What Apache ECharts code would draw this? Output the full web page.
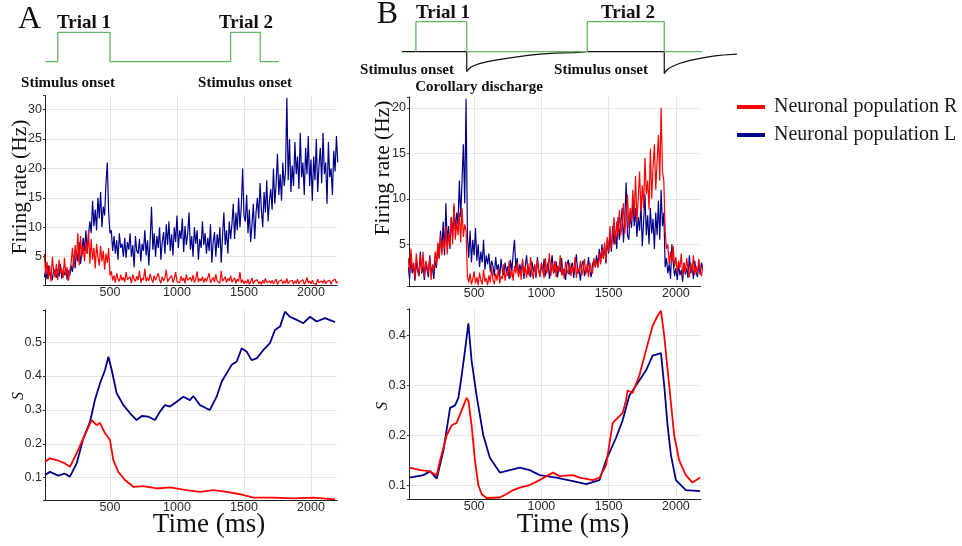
<!DOCTYPE html>
<html>
<head>
<meta charset="utf-8">
<script src="https://cdn.jsdelivr.net/npm/echarts@6/dist/echarts.min.js"></script>
<style>html,body{margin:0;padding:0;background:#fff}#c{width:962px;height:546px}</style>
</head>
<body>
<div id="c"></div>
<script>
// ---------- DATA ----------
const RATE_STEP = 10; // firing-rate samples every 10 ms starting at 10 ms
const rateA_L = [
1.5,2.8,1.2,3.5,1.8,2.4,1.0,3.0,2.2,1.4,
2.9,1.6,3.8,1.3,2.5,1.9,3.2,1.1,2.7,1.8,
3.5,2.4,5.2,3.0,6.1,4.2,7.5,3.8,5.6,8.2,
6.0,9.5,5.5,8.8,11.0,9.0,14.5,10.2,13.0,9.5,
15.0,11.5,16.0,10.0,13.5,12.0,17.5,21.0,12.5,9.0,
9.5,6.0,8.5,5.5,7.8,4.5,9.0,6.5,7.2,5.0,
8.2,4.8,7.5,6.2,9.0,5.0,7.0,3.2,8.5,6.0,
5.5,8.0,4.2,7.2,6.0,9.5,5.2,7.8,3.5,8.0,
13.5,6.2,9.0,5.0,8.5,6.5,10.0,4.5,7.5,9.2,
5.5,10.5,7.0,11.0,6.0,8.8,5.2,10.0,7.5,12.0,
6.5,9.5,8.0,11.5,5.8,10.2,7.0,9.0,12.5,6.2,
8.5,5.0,10.0,7.2,9.5,4.5,8.0,6.5,11.0,7.0,
9.0,5.5,8.2,6.0,10.5,4.0,7.5,9.2,5.0,8.8,
6.5,10.0,4.0,8.5,12.5,7.0,9.5,5.5,11.0,8.0,
10.5,14.0,8.0,12.5,9.5,15.0,10.0,13.5,20.0,12.0,
11.0,15.5,9.0,13.0,7.5,10.5,14.0,8.0,12.5,15.0,
11.5,17.5,13.0,10.0,16.0,12.5,18.0,11.0,14.5,16.5,
13.0,20.0,14.0,17.5,22.5,15.5,19.0,14.5,21.0,17.0,
19.5,32.0,18.0,25.0,16.0,20.5,17.0,24.5,19.0,22.0,
16.5,26.0,18.5,21.0,15.5,23.5,19.0,25.5,17.0,21.5,
14.5,22.0,18.0,25.0,16.0,20.5,23.5,17.5,26.0,19.0,
21.0,14.0,24.5,18.5,20.0,15.5,23.0,19.5,25.5,21.0];
const rateA_R = [
5.5,2.0,4.2,1.2,3.5,0.8,5.0,2.5,1.5,3.8,
1.0,4.5,2.2,3.0,1.4,4.8,1.8,3.2,0.9,2.6,
4.0,6.5,3.2,7.0,4.5,9.0,3.5,8.5,5.0,6.8,
4.2,7.5,5.5,9.5,3.8,8.0,4.5,6.5,3.0,7.2,
5.0,3.5,6.8,4.2,6.0,2.8,5.5,4.0,6.5,1.8,
2.5,1.0,1.8,0.6,2.2,1.2,0.8,1.9,1.0,1.5,
0.7,2.4,1.1,0.9,1.6,0.5,2.0,1.2,0.8,1.7,
1.0,2.6,0.6,1.4,1.0,3.0,0.8,1.5,0.9,2.1,
1.2,0.6,1.8,1.0,0.7,2.2,1.1,0.5,1.6,0.9,
1.4,2.8,0.7,1.2,0.9,1.8,0.6,1.3,2.4,0.8,
1.1,0.6,1.7,0.9,1.4,0.5,2.0,1.0,0.7,1.5,
0.8,1.9,0.6,1.2,2.5,0.7,1.3,0.9,1.6,0.6,
1.4,0.8,1.1,2.2,0.6,1.0,1.5,0.7,2.0,0.9,
1.2,0.5,2.6,0.8,1.1,1.6,0.6,1.3,0.9,1.8,
0.7,1.0,1.4,0.5,1.2,0.8,2.4,0.6,1.1,0.4,
0.9,0.5,1.2,0.3,0.8,1.4,0.4,0.9,0.6,1.1,
0.4,0.8,0.3,1.0,0.5,1.3,0.6,0.3,0.9,0.5,
1.0,0.4,0.7,1.2,0.3,0.8,0.5,1.1,0.4,0.9,
0.5,1.3,0.4,0.8,0.6,1.0,0.3,0.9,0.5,1.2,
0.4,0.8,0.6,1.1,0.3,0.7,1.5,0.5,0.9,0.4,
1.0,0.5,0.8,0.3,1.2,0.6,0.4,0.9,0.5,1.1,
0.4,0.8,0.5,1.0,0.3,0.9,0.6,1.2,0.5,0.8];
const rateB_L = [
2.5,1.2,3.5,1.8,2.8,1.0,3.2,2.0,1.5,4.2,
1.8,2.6,1.1,3.0,2.2,1.4,3.8,1.9,2.5,1.2,
3.2,2.4,5.0,3.5,6.5,4.2,7.5,3.8,9.5,5.0,
7.0,4.5,8.0,5.8,9.2,6.5,8.5,7.2,12.0,8.0,
12.0,16.0,9.5,21.0,6.0,3.5,6.5,3.0,5.5,3.8,
6.8,3.2,5.0,2.5,4.2,3.0,5.5,2.2,3.8,2.8,
4.0,2.0,3.2,2.6,1.5,3.6,2.2,2.8,1.4,3.4,
2.1,1.6,3.0,1.9,2.6,1.2,3.3,2.0,4.0,5.5,
2.4,3.5,1.5,2.8,1.9,3.2,1.2,2.6,3.8,1.7,
2.5,1.4,3.1,2.0,2.7,1.3,3.6,2.2,1.6,2.9,
1.9,3.4,1.5,2.4,3.0,1.2,2.6,3.8,1.8,2.2,
3.1,1.4,2.5,2.0,3.5,1.6,2.3,1.1,2.8,3.3,
1.7,2.4,3.0,1.3,2.6,3.9,1.8,2.2,1.0,2.7,
3.2,1.5,2.4,1.9,3.6,2.1,1.4,2.8,3.3,2.5,
3.8,2.6,4.5,3.0,5.0,3.4,4.8,2.9,5.5,4.0,
6.0,4.2,7.0,5.0,6.5,4.5,8.0,5.5,7.2,9.0,
5.2,7.8,11.8,6.0,5.5,8.5,6.8,10.0,7.0,9.0,
5.8,8.0,6.5,9.5,4.8,7.5,10.5,6.0,8.2,5.0,
9.0,6.2,7.8,4.5,8.5,6.0,9.8,5.5,11.0,7.0,
8.5,2.5,3.5,1.8,2.8,1.2,5.0,3.0,1.5,2.4,
1.1,2.8,1.6,2.2,0.9,3.0,1.7,2.4,1.3,3.8,
1.8,2.6,1.2,3.2,2.0,1.4,2.8,1.7,3.0,2.2];
const rateB_R = [
3.5,1.8,4.5,2.2,3.0,1.2,4.0,2.5,1.6,3.8,
2.0,4.2,1.4,3.2,2.6,1.8,3.6,1.1,2.8,2.2,
4.2,2.8,5.2,3.4,6.0,3.8,5.5,4.5,7.0,3.9,
6.2,4.8,8.0,5.0,9.5,5.5,7.5,6.0,8.5,5.2,
9.0,5.8,7.2,6.5,1.5,0.8,1.8,0.6,1.2,2.0,
0.7,1.4,0.5,1.9,1.0,0.6,2.2,0.9,1.3,0.5,
1.6,0.8,2.5,1.1,0.6,1.8,1.0,2.4,0.7,1.5,
1.2,2.8,1.0,2.0,1.5,3.2,1.3,2.2,1.0,2.6,
1.8,3.0,1.4,2.4,1.1,3.4,1.7,2.6,1.3,2.9,
1.5,3.6,2.0,1.2,2.8,1.6,3.3,2.1,1.4,3.0,
2.2,1.3,3.5,1.8,2.6,4.0,1.5,2.9,1.9,3.2,
1.4,2.7,2.0,3.8,1.6,2.4,1.2,3.1,2.2,1.7,
3.0,1.5,2.6,1.9,3.6,1.3,2.4,2.0,3.2,1.6,
2.3,3.4,1.7,2.8,1.4,3.0,2.2,1.8,3.5,2.5,
3.2,2.4,4.0,2.8,4.5,3.5,5.2,3.0,5.8,4.2,
7.0,4.5,6.2,8.0,5.0,7.5,5.8,8.8,6.0,7.2,
9.5,6.2,8.0,10.5,6.8,9.0,7.5,11.0,8.0,12.5,
7.5,10.0,13.0,8.5,11.5,9.0,14.5,10.5,12.0,8.8,
15.5,10.0,13.5,16.0,11.0,14.0,17.0,12.0,20.0,13.0,
12.0,6.5,4.5,5.0,2.8,4.2,3.0,4.8,2.5,3.6,
1.8,3.2,2.4,4.0,1.5,2.9,1.9,3.5,2.2,1.4,
3.0,2.0,3.8,1.6,2.6,1.8,3.4,2.2,1.5,2.8];

const sA_L_t = [15,52,114,160,201,251,301,351,388,425,463,488,513,550,600,650,699,737,787,836,873,910,948,998,1047,1097,1122,1172,1222,1246,1296,1334,1371,1408,1446,1483,1520,1557,1595,1645,1694,1731,1769,1806,1843,1893,1943,1993,2042,2105,2180];
const sA_L_v = [0.108,0.117,0.106,0.112,0.103,0.142,0.216,0.265,0.33,0.378,0.418,0.457,0.418,0.349,0.314,0.29,0.27,0.282,0.28,0.27,0.295,0.314,0.31,0.324,0.339,0.329,0.341,0.314,0.304,0.3,0.339,0.384,0.408,0.433,0.443,0.482,0.472,0.447,0.452,0.477,0.497,0.536,0.546,0.59,0.575,0.566,0.556,0.575,0.561,0.571,0.559];
const sA_R_t = [15,52,102,164,201,251,301,363,400,425,463,500,525,562,612,674,749,848,948,1072,1172,1271,1371,1470,1570,1719,1868,2018,2180];
const sA_R_v = [0.147,0.157,0.152,0.142,0.132,0.172,0.216,0.27,0.255,0.262,0.231,0.211,0.152,0.117,0.093,0.073,0.075,0.068,0.071,0.063,0.058,0.063,0.058,0.051,0.041,0.041,0.039,0.041,0.036];
const sB_L_t = [20,123,173,222,272,321,358,383,407,432,457,481,518,568,617,691,765,839,913,987,1111,1234,1333,1432,1481,1555,1604,1654,1703,1777,1827,1889,1913,1938,1963,2000,2074,2180];
const sB_L_v = [0.115,0.12,0.128,0.113,0.17,0.255,0.26,0.275,0.32,0.37,0.425,0.35,0.28,0.2,0.155,0.125,0.13,0.135,0.13,0.12,0.115,0.108,0.102,0.11,0.15,0.195,0.23,0.28,0.3,0.33,0.36,0.365,0.3,0.22,0.16,0.11,0.09,0.088];
const sB_R_t = [20,100,160,222,247,296,333,370,407,444,457,481,506,531,555,593,691,741,790,839,913,987,1086,1135,1234,1284,1383,1432,1481,1530,1604,1629,1641,1678,1728,1777,1827,1864,1889,1913,1950,1987,2024,2074,2123,2180];
const sB_R_v = [0.135,0.13,0.128,0.12,0.15,0.2,0.22,0.225,0.25,0.275,0.27,0.22,0.15,0.1,0.082,0.074,0.075,0.082,0.09,0.095,0.1,0.11,0.125,0.118,0.12,0.115,0.11,0.115,0.14,0.225,0.245,0.27,0.29,0.285,0.32,0.37,0.42,0.44,0.45,0.4,0.3,0.2,0.15,0.12,0.105,0.115];

// stimulus schematic: trial [onset, offset] in ms
const trialsA = [[110,500],[1400,1621]];
const stimA_span = [15,1761];
const trialsB = [[67,445],[1341,1913]];
const stimB_span = [67,2194];
// corollary discharge trace (panel B schematic, relative units)
const cdB_t = [-37,445,445,455,475,500,545,600,670,743,820,900,990,1100,1240,1341,1913,1913,1925,1945,1983,2040,2107,2170,2230,2290,2354,2453];
const cdB_v = [0,0,-0.67,-0.6,-0.52,-0.46,-0.39,-0.33,-0.27,-0.22,-0.17,-0.12,-0.08,-0.05,-0.03,0,0,-0.73,-0.65,-0.56,-0.47,-0.37,-0.29,-0.23,-0.18,-0.14,-0.11,-0.08];

const nameR = 'Neuronal population R', nameL = 'Neuronal population L';

// ---------- BUILD ----------
const RED = '#ff0000', BLUE = '#00008b', GREEN = '#62b862';
const rateSeries = arr => arr.map((v,i)=>[(i+1)*RATE_STEP, v]);
const zip = (t,v) => t.map((x,i)=>[x, v[i]]);
function square(trials, span){
  const p = [[span[0],0]];
  trials.forEach(([on,off])=>{ p.push([on,0],[on,1],[off,1],[off,0]); });
  p.push([span[1],0]);
  return p;
}
const SANS = '"Liberation Sans", Arial, sans-serif';
const SERIF = '"Liberation Serif", "Times New Roman", serif';
function onStep(v, step){ return Math.abs(v/step - Math.round(v/step)) < 1e-6; }
function fmtStep(v, step){ const k = Math.round(v/step); return step < 1 ? (k*step).toFixed(1) : String(k*step); }
function xAx(grid, min, max, show){
  return {type:'value', gridIndex:grid, min, max, show,
    minInterval:500, maxInterval:500,
    axisLine:{show:true, onZero:false, lineStyle:{color:'#222', width:1}},
    axisTick:{show:false},
    axisLabel:{show:true, margin:1, fontSize:12.5, color:'#2a2a2a', fontFamily:SANS,
      formatter:v=> (onStep(v,500) && v>0) ? String(Math.round(v)) : ''},
    splitLine:{show:true, showMinLine:false, showMaxLine:false, lineStyle:{color:'#e6e6e6', width:1}}};
}
function yAx(grid, min, max, step, show){
  return {type:'value', gridIndex:grid, min, max, show,
    minInterval:step, maxInterval:step,
    axisLine:{show:true, onZero:false, lineStyle:{color:'#222', width:1}},
    axisTick:{show:true, length:2, lineStyle:{color:'#333'}},
    axisLabel:{show:true, margin:3, fontSize:12.5, color:'#2a2a2a', fontFamily:SANS,
      formatter:v=> onStep(v,step) ? fmtStep(v,step) : ''},
    splitLine:{show:true, showMinLine:false, showMaxLine:false, lineStyle:{color:'#e6e6e6', width:1}}};
}
function hidden(grid, min, max){ return {type:'value', gridIndex:grid, min, max, show:false}; }

function arrowLine(x, y0, y1){ return [{coord:[x,y0]},{coord:[x,y1]}]; }
const markArrows = data => ({silent:true, symbol:['none','arrow'], symbolSize:6, animation:false,
  lineStyle:{color:'#000', width:1, type:'solid'}, label:{show:false}, emphasis:{disabled:true}, data});

function ln(name, x, y, data, color, width, z){
  return {type:'line', name, xAxisIndex:x, yAxisIndex:y, data, symbol:'none', showSymbol:false,
    lineStyle:{color, width}, itemStyle:{color}, z:z||2, animation:false, silent:true};
}

const grids = [
  {left:45, top:32.3, width:292.1, height:29.4},
  {left:45, top:95.4, width:292.1, height:189.6},
  {left:45, top:310, width:292.1, height:190},
  {left:401.5, top:21.7, width:335, height:30},
  {left:408.9, top:96.9, width:291.9, height:189.3},
  {left:408.9, top:308.8, width:291.9, height:190.7}
];

const schA = ln('schA',0,0,square(trialsA, stimA_span),GREEN,1.3,3);
schA.clip = false;
schA.markLine = markArrows([arrowLine(trialsA[0][0],-0.4,0), arrowLine(trialsA[1][0],-0.53,-0.15)]);
const cdB = ln('cdB',3,3,zip(cdB_t,cdB_v),'#111',1.2,2);
cdB.clip = false;
cdB.markLine = markArrows([arrowLine(trialsB[0][0],-0.35,0), arrowLine(trialsB[0][1],-0.95,-0.67), arrowLine(trialsB[1][0],-0.33,0)]);
const schB = ln('schB',3,3,square(trialsB, stimB_span),GREEN,1.3,3);
schB.clip = false;

const series = [
  schA,
  ln(nameL,1,1,rateSeries(rateA_L),BLUE,1.2),
  ln(nameR,1,1,rateSeries(rateA_R),RED,1.2,3),
  ln(nameL,2,2,zip(sA_L_t,sA_L_v),BLUE,1.8),
  ln(nameR,2,2,zip(sA_R_t,sA_R_v),RED,1.8,3),
  cdB, schB,
  ln(nameL,4,4,rateSeries(rateB_L),BLUE,1.2),
  ln(nameR,4,4,rateSeries(rateB_R),RED,1.2,3),
  ln(nameL,5,5,zip(sB_L_t,sB_L_v),BLUE,1.8),
  ln(nameR,5,5,zip(sB_R_t,sB_R_v),RED,1.8,3)
];

function txt(text, x, y, font, opts){
  opts = opts || {};
  return {type:'text', x, y, rotation:opts.rot||0, silent:true, z:10,
    style:{text, x:0, y:0, font, fill:opts.fill||'#111', align:'center', verticalAlign:'middle'}};
}
const R90 = Math.PI/2;
const graphics = [
  txt('A', 29.5, 20, '32px '+SERIF),
  txt('B', 387.5, 15, '32px '+SERIF),
  txt('Trial 1', 84, 23, 'bold 19px '+SERIF),
  txt('Trial 2', 246, 23, 'bold 19px '+SERIF),
  txt('Stimulus onset', 68, 83, 'bold 15px '+SERIF),
  txt('Stimulus onset', 245, 83, 'bold 15px '+SERIF),
  txt('Trial 1', 443, 13, 'bold 19px '+SERIF),
  txt('Trial 2', 628, 13, 'bold 19px '+SERIF),
  txt('Stimulus onset', 407, 70, 'bold 15px '+SERIF),
  txt('Stimulus onset', 601, 70, 'bold 15px '+SERIF),
  txt('Corollary discharge', 479, 87.5, 'bold 15px '+SERIF),
  txt('Firing rate (Hz)', 20, 187, '21.5px '+SERIF, {rot:R90}),
  txt('Firing rate (Hz)', 383, 168, '21.5px '+SERIF, {rot:R90}),
  txt('S', 19, 396, 'italic 16px '+SERIF, {rot:R90}),
  txt('S', 383, 406, 'italic 16px '+SERIF, {rot:R90}),
  txt('Time (ms)', 209, 525, '27px '+SERIF),
  txt('Time (ms)', 573, 525, '27px '+SERIF)
];

const option = {
  animation:false,
  backgroundColor:'#fff',
  grid: grids,
  xAxis: [
    hidden(0,15,2195),
    xAx(1,15,2195,true),
    xAx(2,15,2195,true),
    hidden(3,-40,2450),
    xAx(4,15,2185,true),
    xAx(5,15,2185,true)
  ],
  yAxis: [
    hidden(0,0,1),
    yAx(1,0.2,32.4,5,true),
    yAx(2,0.034,0.595,0.1,true),
    hidden(3,0,1),
    yAx(4,0.4,21.2,5,true),
    yAx(5,0.071,0.454,0.1,true)
  ],
  legend:{
    data:[nameR, nameL], orient:'vertical', left:732, top:92, itemGap:8,
    itemWidth:28, itemHeight:4, icon:'rect', selectedMode:false,
    textStyle:{fontFamily:SERIF, fontSize:20, color:'#1a1a1a', padding:[0,0,0,4]}
  },
  graphic: graphics,
  series
};
const chart = echarts.init(document.getElementById('c'), null, {renderer:'canvas'});
chart.setOption(option);
</script>
</body>
</html>
